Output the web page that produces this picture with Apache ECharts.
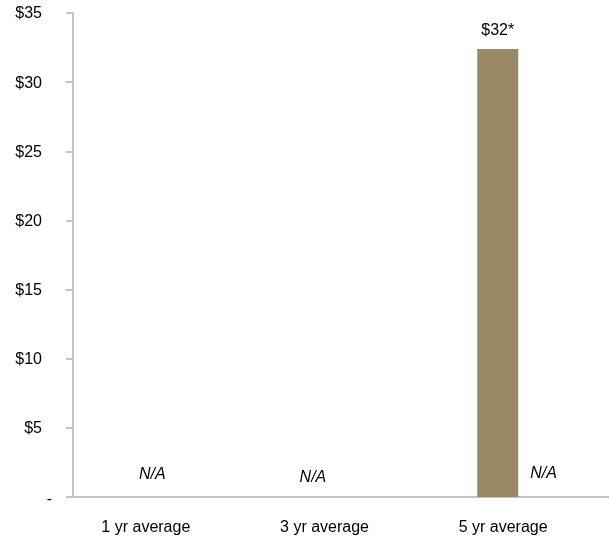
<!DOCTYPE html>
<html>
<head>
<meta charset="utf-8">
<script src="https://cdn.jsdelivr.net/npm/echarts@6/dist/echarts.min.js"></script>
<style>
  html, body { margin: 0; padding: 0; background: #ffffff; }
  #chart { width: 609px; height: 537px; }
</style>
</head>
<body>
<div id="chart"></div>
<script>
// Average value per period
const categories = ['1 yr average', '3 yr average', '5 yr average'];
const averageValues = [null, null, 32.4];
const averageLabels = ['', '', '$32*'];
// Periods without a reported figure
const notAvailable = ['N/A', 'N/A', 'N/A'];
const yTicks = { min: 0, max: 35, step: 5 };

const FONT = 'Liberation Sans, Arial, sans-serif';
const AXIS_GREY = '#c4c4c4';

// Per-category nudges for the N/A notes
const naOffsets = [[-32, 0], [-50, 3], [2, -1]];

const chart = echarts.init(document.getElementById('chart'), null, { renderer: 'canvas' });

chart.setOption({
  animation: false,
  backgroundColor: '#ffffff',
  grid: { left: 73, right: 0, top: 13, bottom: 40 },
  xAxis: {
    type: 'category',
    data: categories,
    axisLine: { show: true, lineStyle: { color: AXIS_GREY, width: 2 } },
    axisTick: { show: false },
    axisLabel: {
      color: '#000000',
      fontFamily: FONT,
      fontSize: 16,
      margin: 23,
      padding: [0, 33, 0, 0]
    },
    splitLine: { show: false }
  },
  yAxis: {
    type: 'value',
    min: yTicks.min,
    max: yTicks.max,
    interval: yTicks.step,
    axisLine: { show: true, lineStyle: { color: AXIS_GREY, width: 2 } },
    axisTick: { show: true, inside: false, length: 7, lineStyle: { color: AXIS_GREY, width: 2 } },
    splitLine: { show: false },
    axisLabel: {
      color: '#000000',
      fontFamily: FONT,
      fontSize: 16,
      margin: 31,
      padding: [2, 0, 0, 0],
      formatter: v => (v === 0 ? '{z|-}' : '$' + v),
      rich: {
        z: { fontFamily: FONT, fontSize: 16, color: '#000000', padding: [3, -10, 0, 0] }
      }
    }
  },
  series: [
    {
      name: 'Average',
      type: 'bar',
      data: averageValues,
      barWidth: 41,
      barGap: '7%',
      itemStyle: { color: '#998966' },
      label: {
        show: true,
        position: 'top',
        distance: 10,
        color: '#000000',
        fontFamily: FONT,
        fontSize: 16,
        formatter: p => averageLabels[p.dataIndex]
      }
    },
    {
      name: 'Not available',
      type: 'bar',
      barWidth: 41,
      data: notAvailable.map((t, i) => ({
        value: 0,
        label: { offset: naOffsets[i] }
      })),
      itemStyle: { color: 'rgba(0,0,0,0)' },
      label: {
        show: true,
        position: 'top',
        distance: 14,
        color: '#000000',
        fontFamily: FONT,
        fontSize: 16,
        fontStyle: 'italic',
        formatter: p => notAvailable[p.dataIndex]
      }
    }
  ]
});
</script>
</body>
</html>
